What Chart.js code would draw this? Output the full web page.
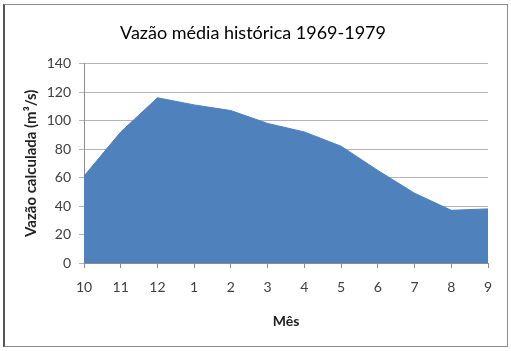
<!DOCTYPE html>
<html>
<head>
<meta charset="utf-8">
<script src="https://cdn.jsdelivr.net/npm/chart.js@4"></script>
<style>
    html, body { margin: 0; padding: 0; background: #fff; }
    #frame {
        position: absolute; left: 3px; top: 4px;
        width: 502px; height: 341px;
        border: 1px solid #8c8c8c;
        border-left: 2px solid #555;
    }
    #wrap { position: absolute; left: 0; top: 0; width: 511px; height: 351px; }
</style>
</head>
<body>
<div id="frame"></div>
<div id="wrap"><canvas id="flowChart" width="511" height="351"></canvas></div>
<script>
// month labels (hydrological year Oct -> Sep)
const months = ['10', '11', '12', '1', '2', '3', '4', '5', '6', '7', '8', '9'];
// average flow m3/s
const avgFlow = [61, 92, 116, 111, 107, 98, 92, 82, 65, 49, 37, 38];

const yMin = 0, yMax = 140, yStep = 20;

const fontFam = "Lato, 'Open Sans', 'Liberation Sans', sans-serif";

const ctx = document.getElementById('flowChart');

new Chart(ctx, {
    type: 'line',
    data: {
        labels: months,
        datasets: [{
            data: avgFlow,
            fill: 'origin',
            backgroundColor: '#4f81bd',
            borderColor: '#4f81bd',
            borderWidth: 1,
            pointRadius: 0,
            tension: 0
        }]
    },
    options: {
        responsive: false,
        animation: false,
        layout: {
            padding: { left: 18, right: 23, top: 0, bottom: 0 }
        },
        plugins: {
            legend: { display: false },
            tooltip: { enabled: false },
            title: {
                display: true,
                text: 'Vazão média histórica 1969-1979',
                color: '#000',
                font: { family: fontFam, size: 18, weight: 'normal' },
                padding: { top: 22, bottom: 20 }
            }
        },
        scales: {
            x: {
                offset: false,
                grid: {
                    drawOnChartArea: false,
                    drawTicks: true,
                    tickLength: 5,
                    color: '#8c8c8c'
                },
                border: { display: true, color: '#8c8c8c' },
                ticks: {
                    color: '#404040',
                    font: { family: fontFam, size: 14 },
                    padding: 11,
                    maxRotation: 0
                },
                title: {
                    display: true,
                    text: 'Mês',
                    color: '#222',
                    font: { family: fontFam, size: 14, weight: 'bold' },
                    padding: { top: 4, bottom: 21 }
                },
                afterFit: function (scale) { scale.height = 351 - 263; }
            },
            y: {
                min: yMin,
                max: yMax,
                ticks: {
                    stepSize: yStep,
                    color: '#404040',
                    font: { family: fontFam, size: 14 },
                    padding: 8
                },
                grid: {
                    color: '#b4b4b4',
                    tickLength: 5,
                    drawTicks: true
                },
                border: { display: true, color: '#8c8c8c' },
                title: {
                    display: true,
                    text: 'Vazão calculada (m³/s)',
                    color: '#222',
                    font: { family: fontFam, size: 15, weight: 'bold' },
                    padding: { top: 4, bottom: 4 }
                },
                afterFit: function (scale) { scale.width = 84 - 18; }
            }
        }
    }
});
</script>
</body>
</html>
